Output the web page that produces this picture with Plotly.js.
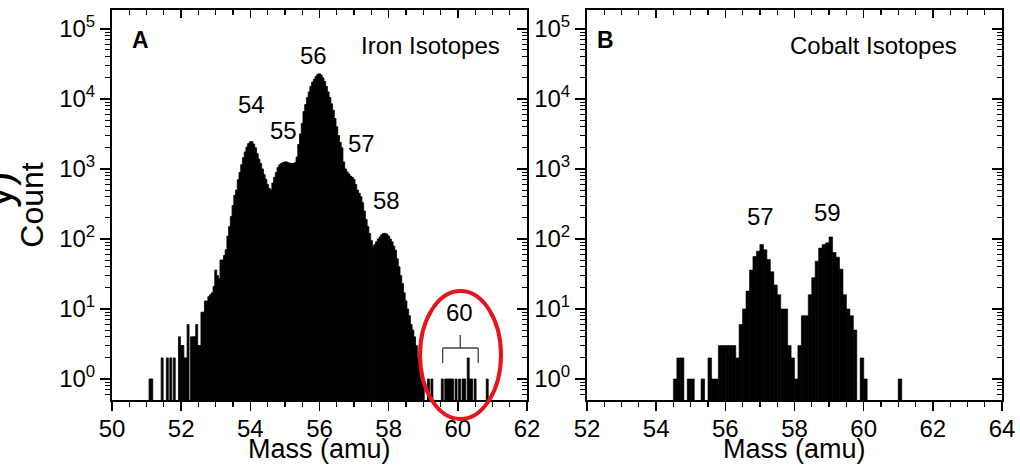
<!DOCTYPE html>
<html>
<head>
<meta charset="utf-8">
<script src="https://cdn.plot.ly/plotly-3.0.1.min.js"></script>
<style>html,body{margin:0;padding:0;background:#fff;}#chart{width:1020px;height:468px;}</style>
</head>
<body>
<div id="chart"></div>
<script>
// ---------------- DATA ----------------
// Panel A: iron isotopes, histogram bins (0.05 amu), first bin centre 51.00
const ironStart = 51.00;
const ironBin = 0.05;
const ironCounts = [
  0,0,1,1,0,0,0,0,0,2, 0,0,2,0,2,0,2,0,0,4,                                   // 51.00-51.95
  3,3,2,2,6,0,4,4,4,6, 3,3,9,9,13,13,15,16,17,21,                             // 52.00-52.95
  36,30,27,50,50,58,70,110,150,210, 300,420,500,700,890,1150,1450,1750,2050,2300, // 53.00-53.95
  2450,2450,2250,2000,1650,1380,1200,1000,830,710, 600,525,500,630,760,890,1050,1150,1200,1230, // 54
  1260,1260,1230,1200,1200,1200,1230,1480,2240,3160, 4470,6600,8300,10500,12600,15100,17400,19100,20900,22400, // 55
  22900,21900,20000,17800,15100,12600,10500,8500,6900,5250, 4000,3000,2400,2000,1260,1000,910,850,790,760, // 56
  710,600,500,450,400,330,250,190,150,120, 95,79,83,91,100,107,115,120,120,117, // 57
  110,100,91,79,69,52,40,30,23,17, 13,10,8,6,5,4,3,2,2,1,                     // 58
  1,0,0,1,0,1,0,0,0,0, 0,1,0,1,1,1,1,1,0,1,                                   // 59
  0,1,0,1,1,0,2,1,1,0, 1,0,0,0,0,0,0,1,0,0,                                   // 60
  0                                                                           // 61.00
];
// Panel B: cobalt isotopes, histogram bins (0.1 amu), first bin centre 54.55
const cobaltStart = 54.55;
const cobaltBin = 0.1;
const cobaltCounts = [
  1,2,2,0,1,1,0,0,1,0,
  2,1,1,3,3,3,3,3,2,6,
  10,18,36,56,67,83,70,51,34,22,
  16,10,10,3,2,1,3,8,8,16,
  28,48,74,83,88,107,64,55,37,16,
  10,8,5,0,2,1,0,0,0,0,
  0,0,0,0,0,1
];
const yTickVals = [1, 10, 100, 1000, 10000, 100000];
const yTickText = ['10<sup>0</sup>','10<sup>1</sup>','10<sup>2</sup>','10<sup>3</sup>','10<sup>4</sup>','10<sup>5</sup>'];
const ironPeakLabels = ['54','55','56','57','58','60'];
const cobaltPeakLabels = ['57','59'];
const xTitle = 'Mass (amu)';

// ---------------- HELPERS ----------------
const binCentres = (start, step, n) => Array.from({length: n}, (_, k) => +(start + k * step).toFixed(3));
const ironMass = binCentres(ironStart, ironBin, ironCounts.length);
const cobaltMass = binCentres(cobaltStart, cobaltBin, cobaltCounts.length);

const W = 1020, H = 468;
const px = v => v / W;
const py = v => 1 - v / H;
const FONT = 'Liberation Sans, Arial, Helvetica, sans-serif';

const traces = [
  {type:'bar', x: ironMass, y: ironCounts, width: ironBin * 1.12, xaxis:'x', yaxis:'y',
   marker:{color:'#000', line:{color:'#000', width:0.8}}, showlegend:false, hoverinfo:'skip'},
  {type:'bar', x: cobaltMass, y: cobaltCounts, width: cobaltBin * 1.04, xaxis:'x2', yaxis:'y2',
   marker:{color:'#000', line:{color:'#000', width:0.6}}, showlegend:false, hoverinfo:'skip'},
  {type:'scatter', x:[], y:[], xaxis:'x3', yaxis:'y3', showlegend:false, hoverinfo:'skip'},
  {type:'scatter', x:[], y:[], xaxis:'x4', yaxis:'y4', showlegend:false, hoverinfo:'skip'}
];

const yDomain = [py(400), py(10)];
const yRange = [-0.3, 5.27];
const domA = [px(112), px(527)];
const domB = [px(587), px(1002)];

function xAxis(domain, range, anchor) {
  return {
    domain, range, anchor, tick0: range[0], dtick: 2,
    ticks:'outside', ticklen:9, tickwidth:1.5, tickcolor:'#000',
    ticklabelstandoff:-3,
    showline:true, linewidth:2, linecolor:'#000', mirror:false,
    showgrid:false, zeroline:false,
    tickfont:{family:FONT, size:24, color:'#000'},
    minor:{dtick:0.5, ticks:'outside', ticklen:5, tickwidth:1.2, tickcolor:'#000', showgrid:false}
  };
}
function xTop(over, range, anchor) {
  return {
    overlaying: over, side:'top', anchor, range, tick0: range[0], dtick: 2,
    ticks:'inside', ticklen:8, tickwidth:1.5, tickcolor:'#000',
    showline:true, linewidth:2, linecolor:'#000', showticklabels:false,
    showgrid:false, zeroline:false,
    minor:{dtick:0.5, ticks:'inside', ticklen:5, tickwidth:1.2, tickcolor:'#000', showgrid:false}
  };
}
function yAxis(anchor, titleText) {
  const a = {
    domain: yDomain, type:'log', range: yRange, anchor,
    tickmode:'array', tickvals: yTickVals, ticktext: yTickText,
    ticks:'outside', ticklen:10, tickwidth:1.5, tickcolor:'#000',
    showline:true, linewidth:2, linecolor:'#000', mirror:false,
    showgrid:false, zeroline:false,
    tickfont:{family:FONT, size:24, color:'#000'},
    minor:{dtick:'D1', ticks:'outside', ticklen:5, tickwidth:1, tickcolor:'#000', showgrid:false}
  };
  if (titleText) a.title = {text:titleText, font:{family:FONT, size:32, color:'#000'}, standoff:6};
  return a;
}
function yRight(over, anchor) {
  return {
    overlaying: over, side:'right', anchor, type:'log', range: yRange,
    tickmode:'array', tickvals: yTickVals,
    ticks:'inside', ticklen:10, tickwidth:1.5, tickcolor:'#000',
    showline:true, linewidth:2, linecolor:'#000', showticklabels:false,
    showgrid:false, zeroline:false,
    minor:{dtick:'D1', ticks:'inside', ticklen:5, tickwidth:1, tickcolor:'#000', showgrid:false}
  };
}

const ann = (text, x, y, size, bold) => ({
  text: bold ? '<b>' + text + '</b>' : text,
  xref:'paper', yref:'paper', x, y,
  xanchor:'center', yanchor:'middle', showarrow:false,
  font:{family:FONT, size, color:'#000'}
});

const annotations = [
  ann('A', px(140), py(40), 23, true),
  ann('Iron Isotopes', px(430), py(46), 24),
  ann('B', px(605.5), py(40), 23, true),
  ann('Cobalt Isotopes', px(873), py(46), 24),
  ann(ironPeakLabels[0], px(251.5), py(105), 24),
  ann(ironPeakLabels[1], px(283.5), py(130.5), 24),
  ann(ironPeakLabels[2], px(313), py(55), 24),
  ann(ironPeakLabels[3], px(361), py(143), 24),
  ann(ironPeakLabels[4], px(386.5), py(200), 24),
  ann(ironPeakLabels[5], px(459.5), py(312.5), 24),
  ann(cobaltPeakLabels[0], px(760.5), py(216), 24),
  ann(cobaltPeakLabels[1], px(827.5), py(213), 24),
  ann(xTitle, px(319.5), py(449), 27),
  ann(xTitle, px(794.5), py(449), 27),
  Object.assign(ann('y)', px(-4), py(190), 44), {textangle:-90})
];

const bracketColor = '#444';
const shapes = [
  {type:'circle', xref:'paper', yref:'paper', x0:px(420), x1:px(501), y0:py(419), y1:py(291),
   line:{color:'#e8141b', width:4}},
  {type:'line', xref:'x', yref:'paper', x0:59.56, x1:60.59, y0:py(348), y1:py(348), line:{color:bracketColor, width:1.3}},
  {type:'line', xref:'x', yref:'paper', x0:59.56, x1:59.56, y0:py(348), y1:py(363), line:{color:bracketColor, width:1.3}},
  {type:'line', xref:'x', yref:'paper', x0:60.59, x1:60.59, y0:py(348), y1:py(363), line:{color:bracketColor, width:1.3}},
  {type:'line', xref:'x', yref:'paper', x0:60.07, x1:60.07, y0:py(335), y1:py(348), line:{color:bracketColor, width:1.3}}
];

const layout = {
  width: W, height: H,
  margin:{l:0, r:0, t:0, b:0},
  paper_bgcolor:'#fff', plot_bgcolor:'rgba(0,0,0,0)',
  font:{family:FONT, color:'#000'},
  showlegend:false, barmode:'overlay', bargap:0,
  xaxis: xAxis(domA, [50, 62], 'y'),
  yaxis: yAxis('x', 'Count'),
  xaxis2: xAxis(domB, [52, 64], 'y2'),
  yaxis2: yAxis('x2', null),
  xaxis3: xTop('x', [50, 62], 'y'),
  yaxis3: yRight('y', 'x'),
  xaxis4: xTop('x2', [52, 64], 'y2'),
  yaxis4: yRight('y2', 'x2'),
  annotations, shapes
};

Plotly.newPlot('chart', traces, layout, {displayModeBar:false, staticPlot:true});
</script>
</body>
</html>
